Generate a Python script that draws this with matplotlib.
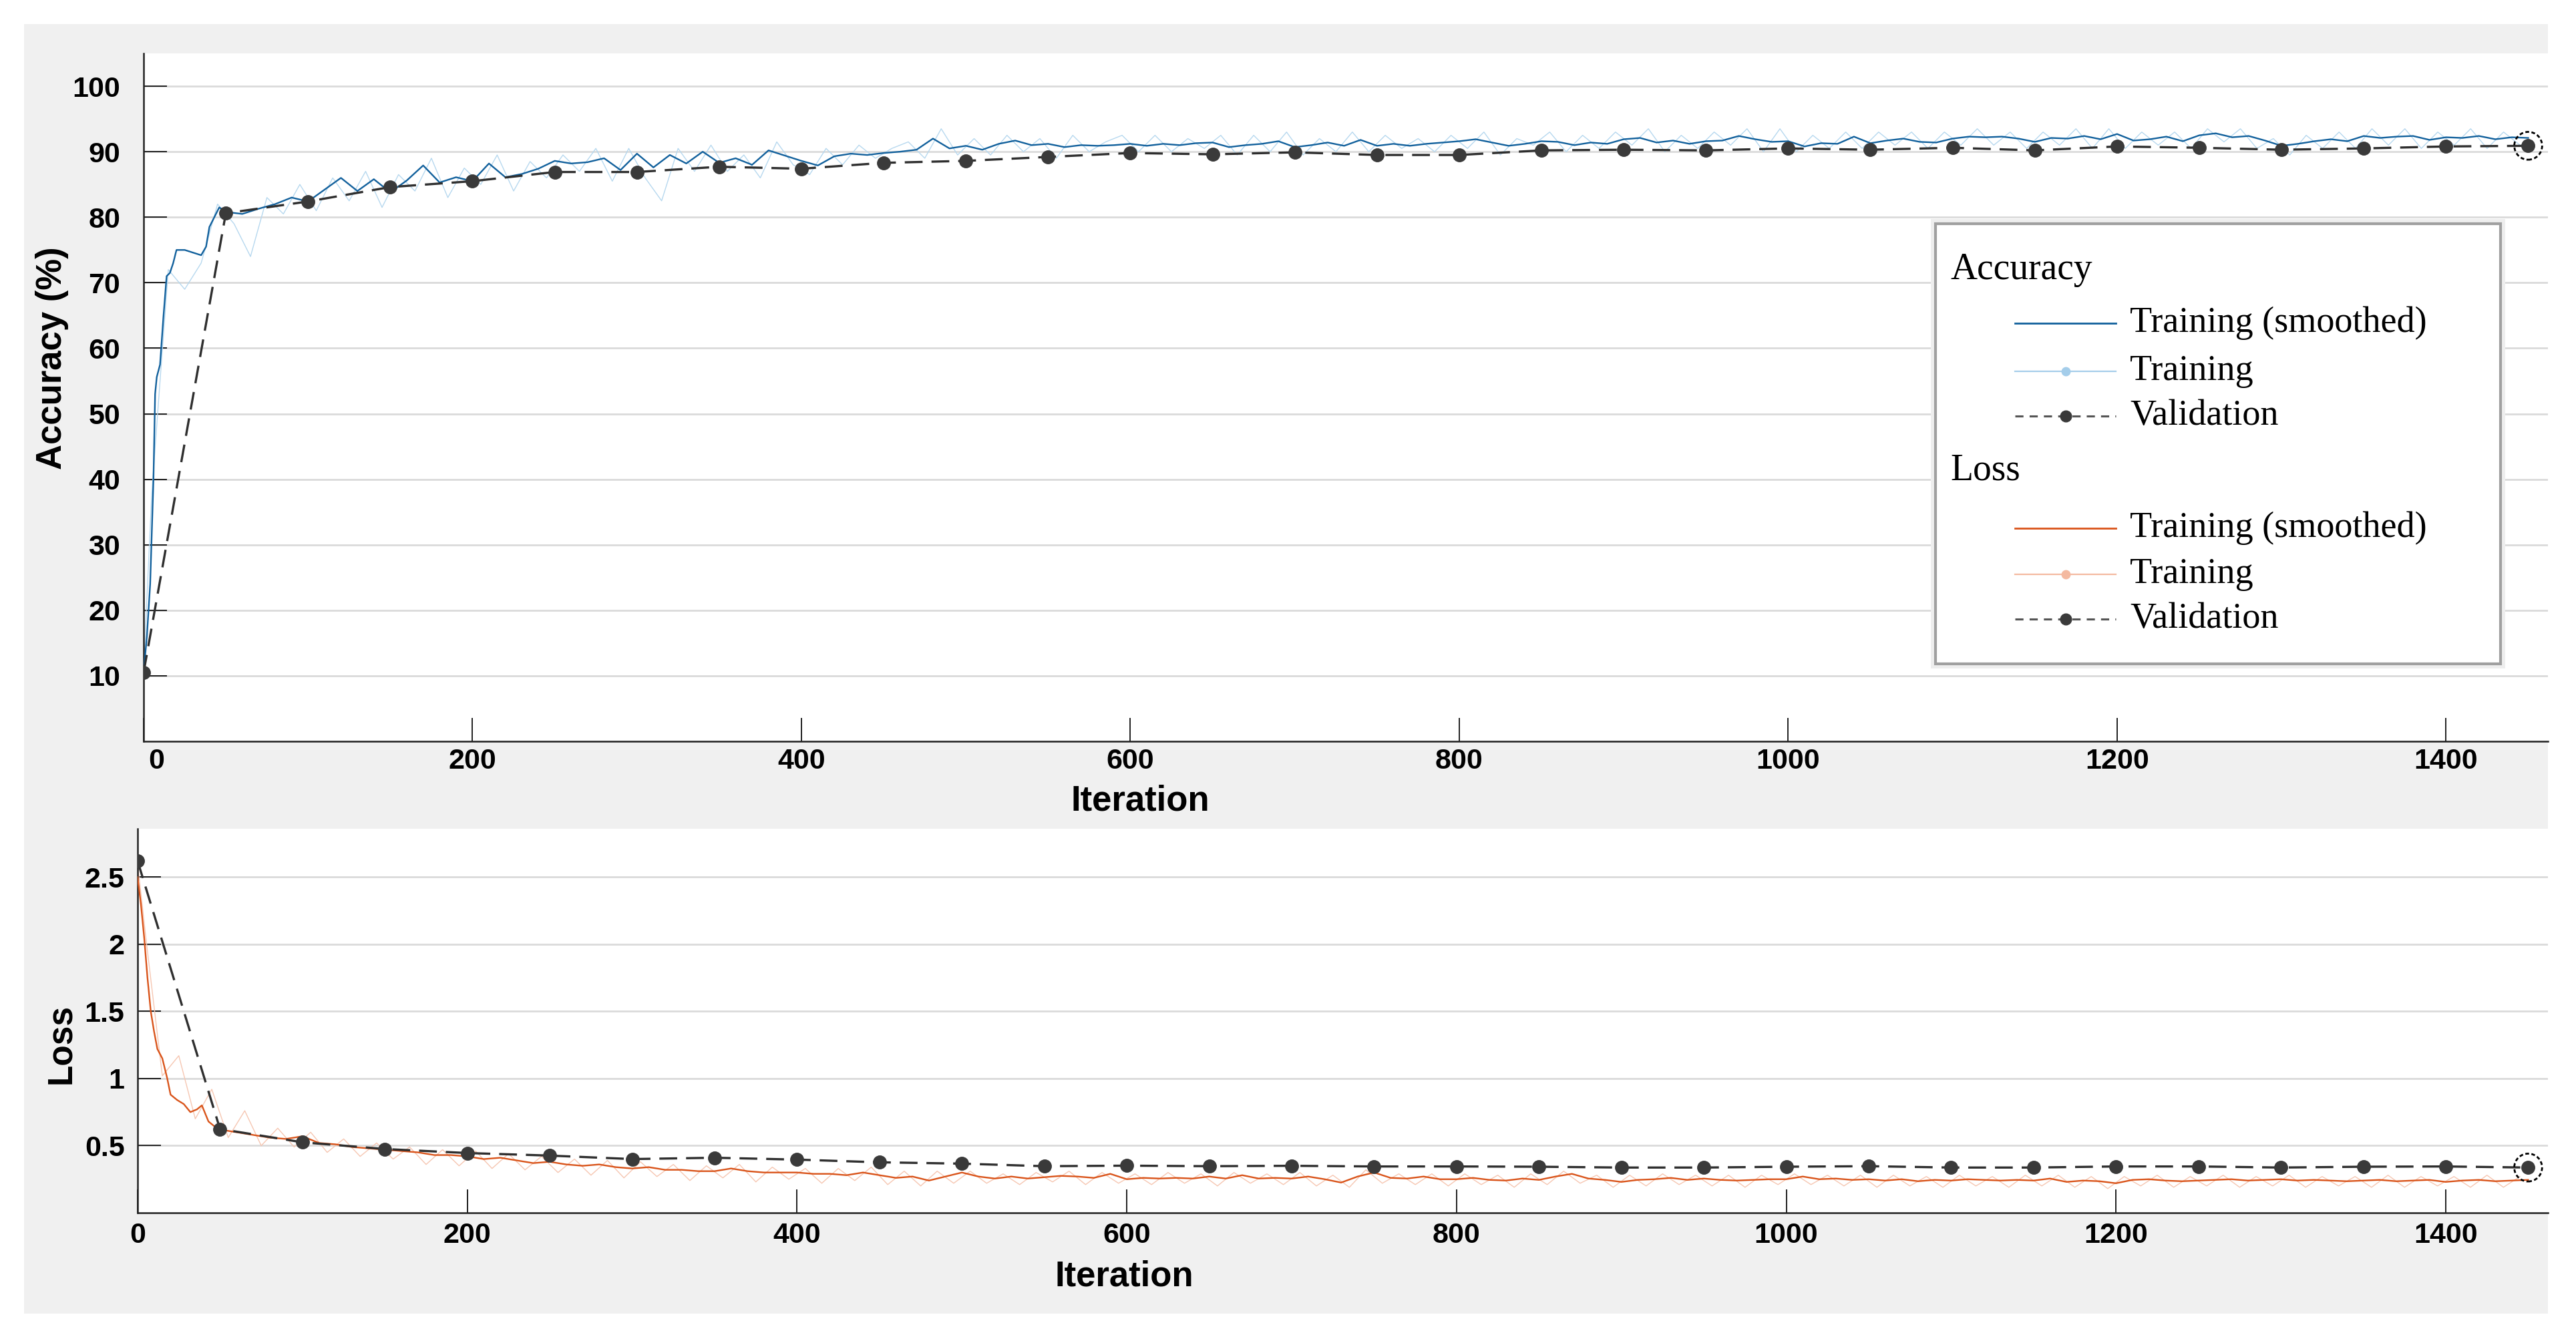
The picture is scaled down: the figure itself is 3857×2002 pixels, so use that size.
import matplotlib
matplotlib.use('Agg')
import matplotlib.pyplot as plt
from matplotlib.patches import Rectangle
from matplotlib.transforms import ScaledTranslation

W, H = 3857, 2002

# ---- data ----
val_it = list(range(0, 1451, 50))
acc_val = [10.5, 80.6, 82.4, 84.6, 85.5, 86.9, 86.9, 87.7, 87.4, 88.3,
           88.6, 89.2, 89.8, 89.6, 89.9, 89.5, 89.5, 90.2, 90.3, 90.2,
           90.5, 90.3, 90.6, 90.2, 90.8, 90.6, 90.3, 90.5, 90.8, 90.9]
loss_val = [2.62, 0.624, 0.525, 0.475, 0.445, 0.426, 0.40, 0.41, 0.396, 0.376,
            0.366, 0.347, 0.351, 0.347, 0.35, 0.345, 0.345, 0.343, 0.337, 0.337,
            0.343, 0.347, 0.337, 0.337, 0.345, 0.345, 0.337, 0.343, 0.345, 0.337]

acc_smooth_it = [0, 2, 4, 6, 7, 8, 10, 12, 14, 16, 18, 20, 25, 30, 35, 38, 40, 43, 46, 50] + list(range(60, 1451, 10))
acc_smooth = [10.5, 16, 24, 40, 53, 55.6, 57.5, 64.6, 71, 71.5, 73, 75, 75, 74.6, 74.2, 75.5, 78.5, 80, 81.5, 80.8,
              80.5, 81.3, 82.0, 83.0, 82.4, 84.2, 86.0, 84.0, 85.8, 83.8,
              85.6, 87.9, 85.3, 86.1, 85.5, 88.2, 86.1, 86.6, 87.4, 88.6,
              88.2, 88.4, 89.0, 87.2, 89.7, 87.6, 89.5, 88.2, 90.0, 88.3,
              89.0, 88.0, 90.2, 89.4, 88.6, 87.9, 89.3, 89.7, 89.5, 89.8,
              90.0, 90.3, 92.0, 90.5,
              90.9, 90.3, 91.2, 91.7, 91.0, 91.2, 90.7, 91.0, 90.9, 91.0,
              91.2, 90.9, 91.2, 91.0, 91.3, 91.4, 90.7, 91.0, 91.2, 91.6,
              90.7, 91.0, 91.4, 90.9, 91.8, 90.9, 91.2, 90.9, 91.2, 91.4,
              91.6, 91.9, 91.4, 90.9, 91.2, 91.6, 91.5, 91.0, 91.4, 91.2,
              91.9, 92.1, 91.4, 91.7, 91.2, 91.6, 91.7, 92.4, 91.9, 91.5,
              91.6, 90.8, 91.3, 91.2, 92.3, 91.3, 91.7, 92.0, 91.5, 91.4,
              92.0, 92.3, 92.2, 92.3, 92.0, 91.5, 92.1, 92.0, 92.4, 91.9,
              92.7, 91.7, 91.9, 92.3, 91.6, 92.5, 92.8, 92.2, 92.4, 91.7,
              90.9, 91.2, 91.6, 91.9, 91.6, 92.4, 92.1, 92.3, 92.4, 91.8,
              92.2, 92.1, 92.4, 91.9, 92.2, 92.1]

acc_raw_it = [0, 5] + list(range(15, 1450, 10))
acc_raw = [10.9, 38, 72, 69, 73, 82, 79, 74, 83, 80.5, 85,
           81, 86, 82.5, 87, 81.5, 86.5, 84, 89, 83, 87.5,
           85, 89.5, 84, 88.5, 86, 89.5, 87, 90.5, 85.5, 90.5,
           86, 82.5, 90.5, 87, 91, 87, 89.5, 86, 91.5, 88,
           86.5, 90.5, 88, 91, 89, 90.5, 91.5, 89, 93.5, 89.5,
           92, 89.5, 92.5, 90, 92, 89, 92.5, 90, 91.5, 92.5,
           90, 92.5, 90, 92, 90.5, 92.5, 89.5, 92.5, 90, 93,
           89.5, 92, 90, 93, 90, 92.5, 90.5, 92, 90, 92.5,
           90.5, 93, 89.5, 92, 91, 93, 90, 92.5, 90.5, 93,
           91, 93.5, 90, 92.5, 90.5, 93, 91, 93.5, 90, 93.5,
           90, 92.5, 90.5, 93, 90.5, 93, 91, 93, 90.5, 93,
           91, 93.5, 91, 93, 90.5, 93, 91, 93.5, 90.5, 93.5,
           90.5, 93, 91, 93, 90.5, 93.5, 91.5, 93.5, 90.5, 92,
           89.5, 92.5, 90.5, 93, 90.5, 93.5, 91, 93.5, 90.5, 93,
           91, 93.5, 90.5, 93, 91]

loss_smooth_it = [0, 2, 4, 6, 8, 10, 12, 15, 18, 20, 24, 28, 32, 36, 39, 43, 47, 50] + list(range(60, 1451, 10))
loss_smooth = [2.5, 2.3, 2.05, 1.75, 1.5, 1.35, 1.22, 1.15, 1.0, 0.88, 0.84, 0.81, 0.75, 0.77, 0.8, 0.68, 0.64, 0.62,
               0.60, 0.58, 0.56, 0.55, 0.57, 0.52, 0.51, 0.49, 0.48, 0.47,
               0.46, 0.45, 0.43, 0.43, 0.42, 0.40, 0.41, 0.39, 0.37, 0.38,
               0.36, 0.35, 0.36, 0.34, 0.33, 0.34, 0.32, 0.32, 0.31, 0.31,
               0.33, 0.31, 0.30, 0.30, 0.30, 0.29, 0.29, 0.28, 0.30, 0.28,
               0.26, 0.27, 0.24, 0.27,
               0.30, 0.27, 0.255, 0.27, 0.255, 0.265, 0.275, 0.27, 0.26, 0.29,
               0.25, 0.26, 0.255, 0.26, 0.255, 0.27, 0.255, 0.28, 0.255, 0.26,
               0.255, 0.27, 0.25, 0.225, 0.27, 0.30, 0.26, 0.255, 0.27, 0.25,
               0.25, 0.26, 0.245, 0.24, 0.255, 0.245, 0.27, 0.29, 0.255, 0.245,
               0.23, 0.245, 0.25, 0.26, 0.245, 0.255, 0.245, 0.24, 0.245, 0.25,
               0.25, 0.27, 0.25, 0.255, 0.245, 0.25, 0.24, 0.25, 0.235, 0.245,
               0.24, 0.25, 0.245, 0.24, 0.245, 0.24, 0.255, 0.23, 0.24, 0.235,
               0.22, 0.245, 0.25, 0.24, 0.235, 0.24, 0.245, 0.25, 0.24, 0.245,
               0.25, 0.24, 0.245, 0.24, 0.235, 0.24, 0.245, 0.235, 0.24, 0.245,
               0.23, 0.24, 0.245, 0.235, 0.24, 0.245]

loss_raw_it = [0, 5] + list(range(15, 1450, 10))
loss_raw = [2.6, 2.05, 1.02, 1.17, 0.70, 0.92, 0.56, 0.76, 0.50, 0.63, 0.49,
            0.60, 0.45, 0.55, 0.42, 0.52, 0.40, 0.49, 0.36, 0.47, 0.35,
            0.46, 0.33, 0.44, 0.32, 0.42, 0.30, 0.40, 0.28, 0.39, 0.26,
            0.38, 0.27, 0.36, 0.24, 0.35, 0.26, 0.36, 0.23, 0.34, 0.25,
            0.33, 0.22, 0.33, 0.24, 0.34, 0.21, 0.31, 0.20, 0.31, 0.22,
            0.31, 0.22, 0.29, 0.21, 0.30, 0.23, 0.31, 0.21, 0.30, 0.22,
            0.29, 0.21, 0.30, 0.22, 0.29, 0.20, 0.30, 0.22, 0.29, 0.21,
            0.30, 0.20, 0.28, 0.19, 0.32, 0.22, 0.29, 0.21, 0.29, 0.20,
            0.29, 0.21, 0.28, 0.19, 0.29, 0.21, 0.31, 0.22, 0.28, 0.19,
            0.28, 0.20, 0.29, 0.21, 0.28, 0.20, 0.28, 0.19, 0.28, 0.21,
            0.29, 0.21, 0.28, 0.20, 0.28, 0.19, 0.28, 0.20, 0.27, 0.19,
            0.28, 0.20, 0.27, 0.19, 0.28, 0.20, 0.28, 0.19, 0.27, 0.18,
            0.27, 0.20, 0.28, 0.19, 0.27, 0.20, 0.28, 0.19, 0.27, 0.20,
            0.28, 0.19, 0.27, 0.20, 0.27, 0.19, 0.28, 0.19, 0.27, 0.20,
            0.27, 0.19, 0.28, 0.19, 0.27]

x_ticks = [0, 200, 400, 600, 800, 1000, 1200, 1400]
acc_ticks = [10, 20, 30, 40, 50, 60, 70, 80, 90, 100]
loss_ticks = [0.5, 1, 1.5, 2, 2.5]
loss_tick_labels = ['0.5', '1', '1.5', '2', '2.5']

# ---- styling ----
plt.rcParams['font.family'] = ['Liberation Sans', 'DejaVu Sans']
VAL_COLOR = '#2e2e2e'
ACC_SMOOTH = '#11609c'
ACC_RAW = '#b6d8ef'
LOSS_SMOOTH = '#d95319'
LOSS_RAW = '#f6c6b1'
GRID = '#dadada'


def px_box(left, top, right, bottom):
    # pixel box of the reference -> figure fraction
    return [left / W, 1 - bottom / H, (right - left) / W, (bottom - top) / H]


def style_axes(ax, yticks, ylabels, ylim, ypad, xpad):
    ax.set_xlim(0, 1462)
    ax.set_ylim(*ylim)
    ax.set_xticks(x_ticks)
    ax.set_yticks(yticks)
    ax.set_yticklabels(ylabels)
    for s in ['top', 'right']:
        ax.spines[s].set_visible(False)
    for s in ['left', 'bottom']:
        ax.spines[s].set_linewidth(1.8)
        ax.spines[s].set_color('#202020')
    ax.tick_params(axis='both', direction='in', length=25, width=1.4, color='#202020',
                   labelsize=31)
    ax.tick_params(axis='y', pad=ypad)
    ax.tick_params(axis='x', pad=xpad)
    for lab in ax.get_xticklabels() + ax.get_yticklabels():
        lab.set_fontweight('bold')
    ax.yaxis.grid(True, color=GRID, linewidth=2.0)
    ax.set_axisbelow(True)


def plot_validation(ax, values):
    ax.plot(val_it, values, color=VAL_COLOR, linewidth=2.4, dashes=(8, 4),
            marker='o', markersize=14, markerfacecolor='#3a3a3a', markeredgecolor='#3a3a3a', zorder=4)
    ax.scatter(val_it[-1:], values[-1:], s=900, facecolors='none', edgecolors='black',
               linewidths=2, linestyles=(0, (2, 1.3)), zorder=5)


fig = plt.figure(figsize=(W / 100, H / 100), dpi=100, facecolor='white')

# gray MATLAB-style panel behind both plots
fig.add_artist(Rectangle((36 / W, 1 - 1967 / H), (3815 - 36) / W, (1967 - 36) / H,
                         transform=fig.transFigure, facecolor='#f0f0f0', edgecolor='none', zorder=-10))

# accuracy
ax1 = fig.add_axes(px_box(215, 80, 3815, 1110))
style_axes(ax1, acc_ticks, [str(t) for t in acc_ticks], (0, 105), 25, 7)
ax1.plot(acc_raw_it, acc_raw, color=ACC_RAW, linewidth=1.0, zorder=2)
ax1.plot(acc_smooth_it, acc_smooth, color=ACC_SMOOTH, linewidth=1.7, zorder=3)
plot_validation(ax1, acc_val)
# the "0" label sits a little right of the spine in the reference
first = ax1.get_xticklabels()[0]
first.set_transform(first.get_transform() + ScaledTranslation(0.19, 0, fig.dpi_scale_trans))

# loss
ax2 = fig.add_axes(px_box(206, 1241, 3815, 1816))
style_axes(ax2, loss_ticks, loss_tick_labels, (0, 2.86), 14, 10)
ax2.plot(loss_raw_it, loss_raw, color=LOSS_RAW, linewidth=1.0, zorder=2)
ax2.plot(loss_smooth_it, loss_smooth, color=LOSS_SMOOTH, linewidth=1.7, zorder=3)
plot_validation(ax2, loss_val)

# axis labels
fig.text(78 / W, 1 - 536 / H, 'Accuracy (%)', rotation=90, ha='center', va='center',
         fontsize=38, fontweight='bold')
fig.text(1707 / W, 1 - 1200 / H, 'Iteration', ha='center', va='center', fontsize=38, fontweight='bold')
fig.text(92 / W, 1 - 1563 / H, 'Loss', rotation=90, ha='center', va='center',
         fontsize=37, fontweight='bold')
fig.text(1683 / W, 1 - 1911 / H, 'Iteration', ha='center', va='center', fontsize=38, fontweight='bold')

# legend box drawn by hand (grouped entries with section titles)
lg = fig.add_axes(px_box(2898, 335, 3744, 994))
lg.set_xlim(0, 1)
lg.set_ylim(0, 1)
lg.axis('off')
lg.add_patch(Rectangle((0, 0), 1, 1, facecolor='white', edgecolor='#eeeeee', linewidth=10,
                       transform=lg.transAxes, clip_on=False, zorder=0))
lg.add_patch(Rectangle((0, 0), 1, 1, facecolor='white', edgecolor='#a0a0a0', linewidth=3,
                       transform=lg.transAxes, clip_on=False, zorder=1))

serif = ['Liberation Serif', 'DejaVu Serif']
h0, h1, hm, tx = 0.141, 0.319, 0.23, 0.344
sections = [
    ('Accuracy', 0.895, [(0.774, ACC_SMOOTH, 'smooth'), (0.665, '#a4cdea', 'raw'), (0.563, VAL_COLOR, 'val')]),
    ('Loss', 0.439, [(0.308, LOSS_SMOOTH, 'smooth'), (0.204, '#f4b9a0', 'raw'), (0.102, VAL_COLOR, 'val')]),
]
names = {'smooth': 'Training (smoothed)', 'raw': 'Training', 'val': 'Validation'}
for title, ty, rows in sections:
    lg.text(0.027, ty, title, fontsize=40, family=serif, ha='left', va='center', zorder=3)
    for y, col, kind in rows:
        if kind == 'val':
            lg.plot([h0, h1], [y, y], color='#555555', linewidth=2.2, dashes=(4, 3), zorder=2)
            lg.plot([hm], [y], marker='o', markersize=12, color='#3a3a3a', zorder=3)
        else:
            lg.plot([h0, h1], [y, y], color=col, linewidth=2.0 if kind == 'smooth' else 1.6, zorder=2)
            if kind == 'raw':
                lg.plot([hm], [y], marker='o', markersize=9, color=col, zorder=3)
        lg.text(tx, y, names[kind], fontsize=39, family=serif, ha='left', va='center', zorder=3)

fig.savefig('out.png', dpi=100, facecolor='white')
